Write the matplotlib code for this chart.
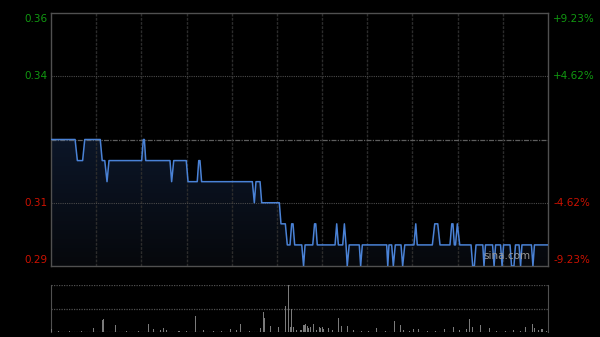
import numpy as np
import matplotlib
matplotlib.use('Agg')
import matplotlib.pyplot as plt

# intraday price, minutes from open (0..330) and price
minutes = [0, 16, 17.5, 21, 22.4, 32.7, 34, 35.7, 37.2, 38.5, 60.2, 61.3, 62, 62.9,
           79, 80.1, 81.5, 89.8, 91, 97.1, 98.1, 98.9, 100, 133.7, 135, 136.1, 138.8,
           139.9, 151.6, 152.7, 155.6, 156.9, 158.7, 159.8, 160.7, 161.8, 166.5, 167.7,
           168.7, 173.8, 175, 175.8, 176.8, 188.6, 189.7, 190.8, 193.7, 194.8, 195.9,
           196.7, 198, 204.7, 205.6, 206.7, 222.9, 223.6, 224.4, 226.2, 227.3, 228.6,
           232.4, 233.5, 234.9, 241, 242.2, 243.2, 253.2, 254.8, 256.8, 258.3, 264.9,
           266.1, 266.9, 267.8, 268.6, 269.8, 271.4, 278.9, 280, 281.1, 282.2, 286.7,
           287.5, 288.5, 293.2, 294.2, 295.2, 298.5, 299.5, 300.5, 304.8, 305.8, 307.4,
           308.4, 310.8, 311.8, 312.7, 319, 320, 321, 330]
prices = [0.325, 0.325, 0.32, 0.32, 0.325, 0.325, 0.32, 0.32, 0.315, 0.32, 0.32, 0.325, 0.325, 0.32,
          0.32, 0.315, 0.32, 0.32, 0.315, 0.315, 0.32, 0.32, 0.315, 0.315, 0.31, 0.315, 0.315,
          0.31, 0.31, 0.305, 0.305, 0.30, 0.30, 0.305, 0.305, 0.30, 0.30, 0.295,
          0.30, 0.30, 0.305, 0.305, 0.30, 0.30, 0.305, 0.30, 0.30, 0.305, 0.30,
          0.295, 0.30, 0.30, 0.295, 0.30, 0.30, 0.295, 0.30, 0.30, 0.295, 0.30,
          0.30, 0.295, 0.30, 0.30, 0.305, 0.30, 0.30, 0.305, 0.305, 0.30, 0.30,
          0.305, 0.305, 0.30, 0.30, 0.305, 0.30, 0.30, 0.295, 0.295, 0.30, 0.30,
          0.295, 0.30, 0.30, 0.295, 0.30, 0.30, 0.295, 0.30, 0.30, 0.295, 0.295,
          0.30, 0.30, 0.295, 0.30, 0.30, 0.295, 0.30, 0.30]

prev_close = 0.325
left_labels = ['0.36', '0.34', '0.31', '0.29']
left_values = [0.355, 0.34, 0.31, 0.295]
right_labels = ['+9.23%', '+4.62%', '-4.62%', '-9.23%']

# volume (relative), minute index and height
vol_min = [0, 5, 12, 20, 28, 34, 35, 43, 50, 58, 65, 68, 73, 75, 77, 85, 90, 96, 101, 108,
           113, 119, 123, 126, 132, 139, 141, 142, 146, 151, 156, 158, 159, 160, 161, 163,
           166, 168, 169, 170, 171, 172, 174, 176, 178, 179, 180, 181, 184, 187, 191, 193,
           197, 201, 206, 211, 216, 222, 228, 232, 234, 238, 241, 244, 250, 255, 261, 267,
           271, 276, 278, 280, 285, 291, 296, 302, 307, 312, 315, 320, 321, 324, 326, 329]
vol_val = [3, 1, 1, 1, 4, 12, 13, 7, 1, 1, 8, 3, 2, 4, 2, 1, 1, 16, 2, 1,
           1, 3, 2, 8, 1, 4, 20, 14, 6, 5, 26, 47, 5, 23, 5, 2,
           2, 7, 8, 6, 4, 5, 8, 2, 5, 4, 5, 3, 4, 2, 14, 6,
           6, 2, 1, 1, 4, 1, 11, 7, 2, 1, 3, 3, 1, 1, 3, 5,
           2, 3, 13, 5, 7, 4, 1, 1, 2, 1, 5, 8, 4, 2, 3, 1]

fig = plt.figure(figsize=(6, 3.37), dpi=100, facecolor='black')
ax = fig.add_axes([51 / 600, 1 - 266 / 337, 497 / 600, 253 / 337], facecolor='black')
vax = fig.add_axes([51 / 600, 1 - 332 / 337, 497 / 600, 47 / 337], facecolor='black')

ymin, ymax = 0.295, 0.355
ax.set_xlim(0, 330)
ax.set_ylim(ymin, ymax)

# gradient fill under the price line
poly = ax.fill_between(minutes, prices, ymin, color='none', lw=0)
grad = np.linspace(1, 0, 256).reshape(-1, 1)
cmap = matplotlib.colors.LinearSegmentedColormap.from_list('g', ['#06080c', '#0c1628'])
img = ax.imshow(grad, extent=[0, 330, ymin, 0.325], aspect='auto', cmap=cmap,
                origin='upper', zorder=1)
img.set_clip_path(poly.get_paths()[0], transform=ax.transData)
ax.plot(minutes, prices, color='#4a82d6', lw=1.1, zorder=3)

# grid
for i in range(1, 11):
    ax.axvline(i * 30, color='#2c2c2c', lw=1, ls=(0, (2, 1)), zorder=2)
for y in [0.34, 0.31]:
    ax.axhline(y, color='#4a4a4a', lw=0.8, ls=(0, (1, 1)), zorder=2)
ax.axhline(prev_close, color='#5e5e5e', lw=0.9, ls=(0, (4, 1, 1, 1)), zorder=2)

for s in ax.spines.values():
    s.set_color('#505050')
    s.set_linewidth(1)
ax.set_xticks([])
ax.set_yticks([])

colors = ['#119911', '#119911', '#cc1100', '#cc1100']
offsets = [-6, 0, 0, 6]
for lab, v, c, off in zip(left_labels, left_values, colors, offsets):
    ax.annotate(lab, xy=(0, v), xycoords=('axes fraction', 'data'), xytext=(-4, off),
                textcoords='offset pixels', ha='right', va='center', color=c, fontsize=7.5)
for lab, v, c, off in zip(right_labels, left_values, colors, offsets):
    ax.annotate(lab, xy=(1, v), xycoords=('axes fraction', 'data'), xytext=(5, off),
                textcoords='offset pixels', ha='left', va='center', color=c, fontsize=7.5)

ax.text(0.965, 0.02, 'sina.com', transform=ax.transAxes, ha='right', va='bottom',
        color='#999999', fontsize=7.5, zorder=4)

# volume panel
vax.bar(vol_min, vol_val, width=0.7, color='#7a7a7a', zorder=3)
vax.set_xlim(0, 330)
vax.set_ylim(0, 47)
vax.axhline(47, color='#505050', lw=0.9, ls=(0, (1, 1)))
vax.axhline(23.5, color='#505050', lw=0.9, ls=(0, (1, 1)))
vax.axhline(0, color='#505050', lw=0.9, ls=(0, (1, 1)))
vax.spines['top'].set_visible(False)
vax.spines['bottom'].set_visible(False)
vax.spines['left'].set_color('#505050')
vax.spines['right'].set_color('#505050')
vax.set_xticks([])
vax.set_yticks([])

fig.savefig('out.png', dpi=100, facecolor='black')
